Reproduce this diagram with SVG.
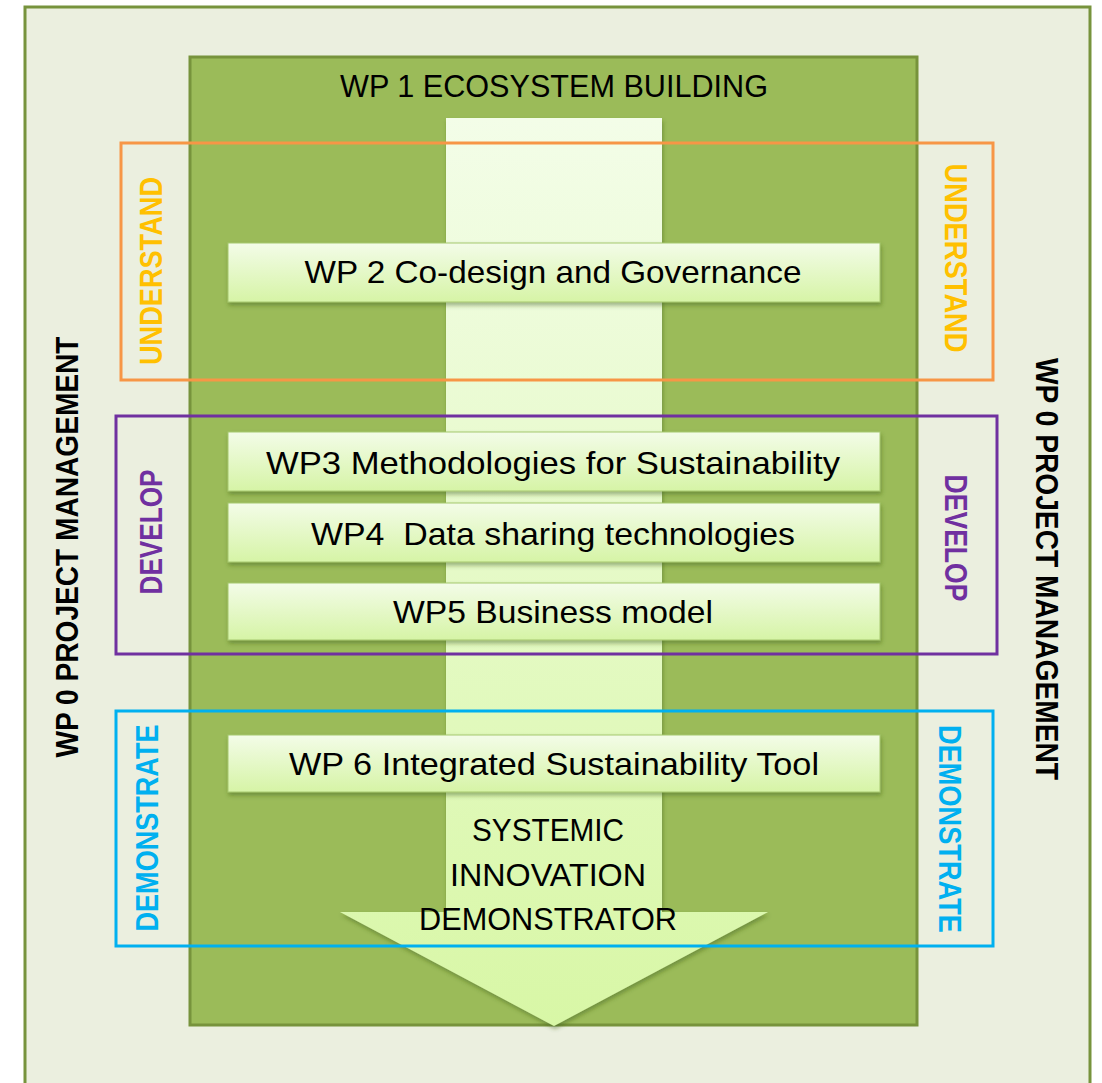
<svg xmlns="http://www.w3.org/2000/svg" width="1102" height="1083" viewBox="0 0 1102 1083">
<defs>
<linearGradient id="boxg" x1="0" y1="0" x2="0" y2="1">
<stop offset="0" stop-color="#f3fce8"/>
<stop offset="1" stop-color="#d6f4a6"/>
</linearGradient>
<linearGradient id="arrg" x1="0" y1="0" x2="0" y2="1">
<stop offset="0" stop-color="#f3fde8"/>
<stop offset="1" stop-color="#d8f7a6"/>
</linearGradient>
<filter id="sh" x="-10%" y="-20%" width="120%" height="150%">
<feDropShadow dx="1" dy="3" stdDeviation="2" flood-color="#3c5a14" flood-opacity="0.45"/>
</filter>
</defs>
<style>
.wp{fill:url(#boxg);stroke:#a6c86e;stroke-width:1;filter:url(#sh)}
.t{font-family:"Liberation Sans",Arial,sans-serif;fill:#000;text-anchor:middle;white-space:pre}
.lbl{font-family:"Liberation Sans",Arial,sans-serif;font-weight:bold;text-anchor:middle;font-size:31px}
.frame{fill:none;stroke-width:3}
</style>
<rect width="1102" height="1083" fill="#ffffff"/>
<g id="wp0">
<rect x="25" y="7" width="1065" height="1090" fill="#ebefdf" stroke="#77933c" stroke-width="3"/>
<text class="lbl" transform="translate(78,547) rotate(-90)" textLength="421" lengthAdjust="spacingAndGlyphs">WP 0 PROJECT MANAGEMENT</text>
<text class="lbl" transform="translate(1036,569) rotate(90)" textLength="422" lengthAdjust="spacingAndGlyphs">WP 0 PROJECT MANAGEMENT</text>
</g>
<g id="wp1">
<rect x="190" y="57" width="727" height="968" fill="#9bbb59" stroke="#77933c" stroke-width="3"/>
<text class="t" x="554" y="97" font-size="31" textLength="428" lengthAdjust="spacingAndGlyphs">WP 1 ECOSYSTEM BUILDING</text>
</g>
<g id="arrow">
<path d="M446,118 H662 V912 H768 L554,1026 L340,912 H446 Z" fill="url(#arrg)" filter="url(#sh)"/>
<text class="t" font-size="32"><tspan x="548" y="841" textLength="152" lengthAdjust="spacingAndGlyphs">SYSTEMIC</tspan><tspan x="548" y="886" textLength="196" lengthAdjust="spacingAndGlyphs">INNOVATION</tspan><tspan x="548" y="930" textLength="258" lengthAdjust="spacingAndGlyphs">DEMONSTRATOR</tspan></text>
</g>
<g id="wp2">
<rect class="wp" x="228" y="243" width="652" height="59"/>
<text class="t" x="553" y="283" font-size="32" textLength="497" lengthAdjust="spacingAndGlyphs">WP 2 Co-design and Governance</text>
</g>
<g id="wp3">
<rect class="wp" x="228" y="432" width="652" height="59"/>
<text class="t" x="553" y="474" font-size="32" textLength="574" lengthAdjust="spacingAndGlyphs">WP3 Methodologies for Sustainability</text>
</g>
<g id="wp4">
<rect class="wp" x="228" y="503" width="652" height="59"/>
<text class="t" x="553" y="545" font-size="32" textLength="484" lengthAdjust="spacingAndGlyphs">WP4  Data sharing technologies</text>
</g>
<g id="wp5">
<rect class="wp" x="228" y="583" width="652" height="57"/>
<text class="t" x="553" y="623" font-size="32" textLength="320" lengthAdjust="spacingAndGlyphs">WP5 Business model</text>
</g>
<g id="wp6">
<rect class="wp" x="228" y="735" width="652" height="57"/>
<text class="t" x="554" y="775" font-size="32" textLength="530" lengthAdjust="spacingAndGlyphs">WP 6 Integrated Sustainability Tool</text>
</g>
<g id="understand">
<rect class="frame" x="121" y="143" width="872" height="237" stroke="#f79646"/>
<text class="lbl" fill="#ffc000" transform="translate(162,271) rotate(-90)" textLength="188" lengthAdjust="spacingAndGlyphs">UNDERSTAND</text>
<text class="lbl" fill="#ffc000" transform="translate(945,258) rotate(90)" textLength="189" lengthAdjust="spacingAndGlyphs">UNDERSTAND</text>
</g>
<g id="develop">
<rect class="frame" x="116" y="416" width="881" height="238" stroke="#7030a0"/>
<text class="lbl" fill="#7030a0" transform="translate(162,532) rotate(-90)" textLength="125" lengthAdjust="spacingAndGlyphs">DEVELOP</text>
<text class="lbl" fill="#7030a0" transform="translate(945,538) rotate(90)" textLength="127" lengthAdjust="spacingAndGlyphs">DEVELOP</text>
</g>
<g id="demonstrate">
<rect class="frame" x="116" y="711" width="877" height="235" stroke="#00b0f0"/>
<text class="lbl" fill="#00b0f0" transform="translate(158,828) rotate(-90)" textLength="207" lengthAdjust="spacingAndGlyphs">DEMONSTRATE</text>
<text class="lbl" fill="#00b0f0" transform="translate(939,829) rotate(90)" textLength="208" lengthAdjust="spacingAndGlyphs">DEMONSTRATE</text>
</g>
<g id="connectors"></g>
</svg>
